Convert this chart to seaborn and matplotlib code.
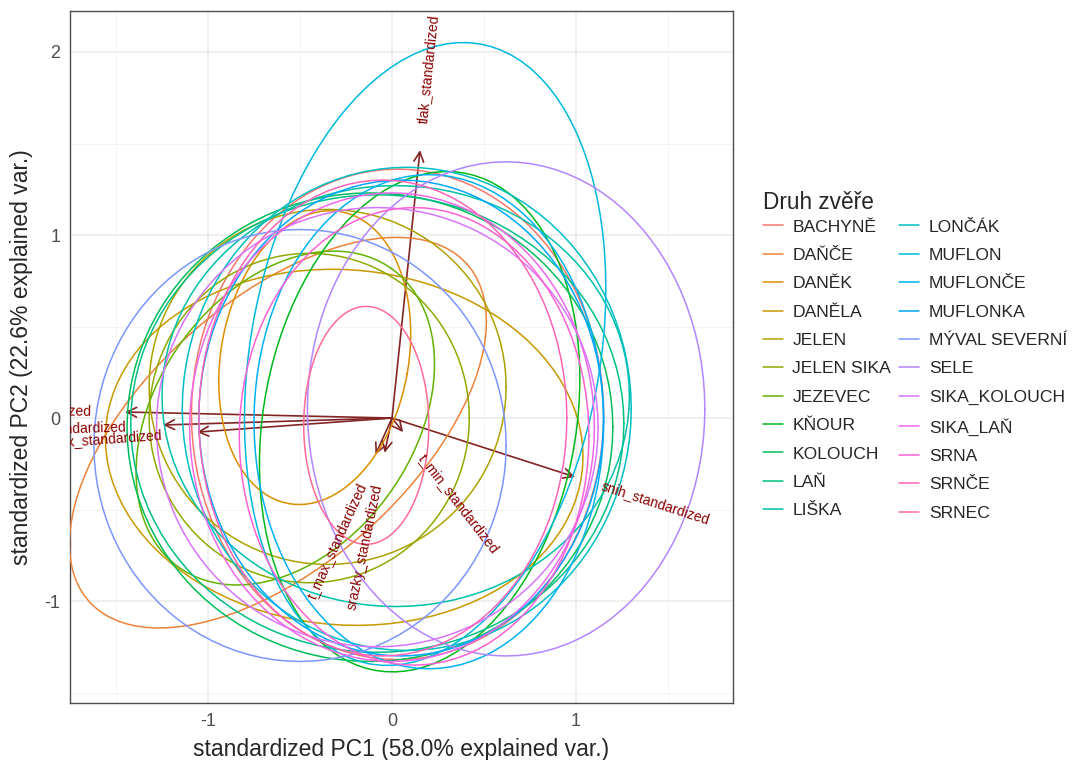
import numpy as np
import pandas as pd
import seaborn as sns
import matplotlib.pyplot as plt
from matplotlib.font_manager import FontProperties

# skupiny (Druh zvěře)
skupiny = ['BACHYNĚ', 'DAŇČE', 'DANĚK', 'DANĚLA', 'JELEN', 'JELEN SIKA', 'JEZEVEC',
           'KŇOUR', 'KOLOUCH', 'LAŇ', 'LIŠKA', 'LONČÁK', 'MUFLON', 'MUFLONČE',
           'MUFLONKA', 'MÝVAL SEVERNÍ', 'SELE', 'SIKA_KOLOUCH', 'SIKA_LAŇ',
           'SRNA', 'SRNČE', 'SRNEC']

# elipsy: střed, poloosy, natočení (stupně)
ell_cx = [0.03, -0.62, -0.42, -0.26, -0.35, -0.45, -0.58, 0.15, -0.12, -0.08, 0.02,
          0.08, 0.18, 0.20, 0.05, -0.50, 0.62, -0.08, 0.00, 0.12, -0.05, -0.14]
ell_cy = [0.02, -0.08, 0.33, -0.16, 0.17, 0.00, 0.00, -0.02, -0.05, -0.03, 0.12,
          0.05, 0.35, -0.02, 0.00, -0.15, 0.05, -0.05, -0.05, -0.10, 0.00, -0.04]
ell_ra = [1.12, 1.38, 0.51, 1.30, 0.97, 0.87, 1.00, 0.85, 1.32, 1.34, 1.27,
          1.22, 0.95, 0.95, 1.10, 1.12, 1.08, 1.20, 1.10, 0.95, 1.00, 0.34]
ell_rb = [1.34, 0.72, 0.81, 0.97, 0.97, 0.90, 0.70, 1.38, 1.28, 1.25, 1.15,
          1.32, 1.72, 1.35, 1.30, 1.18, 1.35, 1.20, 1.28, 1.25, 1.30, 0.65]
ell_ang = [0, 42, -10, -5, 0, 0, 55, -10, 0, 0, 0,
           0, -10, 0, 0, 0, 0, 0, 0, 0, 0, 0]

# šipky proměnných
var_nazvy = ['tlak_standardized', 'snih_standardized', 't_min_standardized',
             't_max_standardized', 'srazky_standardized',
             'vlhkost_standardized', 'oblacnost_standardized', 'vitr_max_standardized']
var_x = [0.152, 0.995, 0.06, -0.09, -0.04, -1.451, -1.245, -1.06]
var_y = [1.464, -0.322, -0.077, -0.20, -0.19, 0.033, -0.038, -0.077]


def hcl_hex(h, c=100, l=65):
    # ggplot2 hue_pal -> hcl -> sRGB
    hr = np.radians(h)
    U, V = c * np.cos(hr), c * np.sin(hr)
    Xn, Yn, Zn = 95.047, 100.0, 108.883
    un = 4 * Xn / (Xn + 15 * Yn + 3 * Zn)
    vn = 9 * Yn / (Xn + 15 * Yn + 3 * Zn)
    Y = Yn * ((l + 16) / 116) ** 3
    u = U / (13 * l) + un
    v = V / (13 * l) + vn
    X = 9 * Y * u / (4 * v)
    Z = Y * (12 - 3 * u - 20 * v) / (4 * v)
    X, Y, Z = X / 100, Y / 100, Z / 100
    rgb = [3.2404542 * X - 1.5371385 * Y - 0.4985314 * Z,
           -0.9692660 * X + 1.8760108 * Y + 0.0415560 * Z,
           0.0556434 * X - 0.2040259 * Y + 1.0572252 * Z]
    out = []
    for ch in rgb:
        ch = 1.055 * ch ** (1 / 2.4) - 0.055 if ch > 0.0031308 else 12.92 * ch
        out.append(min(max(ch, 0), 1))
    return '#%02x%02x%02x' % tuple(int(round(x * 255)) for x in out)


n = len(skupiny)
paleta = [hcl_hex(15 + i * 360 / n) for i in range(n)]

# body elips
t = np.linspace(0, 2 * np.pi, 101)
radky = []
for g, cx, cy, ra, rb, an in zip(skupiny, ell_cx, ell_cy, ell_ra, ell_rb, ell_ang):
    f = np.radians(an)
    ex = cx + ra * np.cos(t) * np.cos(f) - rb * np.sin(t) * np.sin(f)
    ey = cy + ra * np.cos(t) * np.sin(f) + rb * np.sin(t) * np.cos(f)
    radky.append(pd.DataFrame({'PC1': ex, 'PC2': ey, 'druh': g}))
df_ell = pd.concat(radky, ignore_index=True)

sns.set_style('white')
plt.rcParams['font.family'] = ['Liberation Sans', 'DejaVu Sans']
plt.rcParams['axes.unicode_minus'] = False

W, H = 1083, 760
fig = plt.figure(figsize=(W / 100, H / 100), dpi=100)
ax = fig.add_axes([70 / W, 57 / H, 663 / W, 692 / H])

ax.set_xlim(-1.750, 1.853)
ax.set_ylim(-1.557, 2.224)

# mřížka
ax.set_xticks([-1, 0, 1])
ax.set_yticks([-1, 0, 1, 2])
ax.set_xticks([-1.5, -0.5, 0.5, 1.5], minor=True)
ax.set_yticks([-1.5, -0.5, 0.5, 1.5], minor=True)
ax.grid(True, which='major', color='#EBEBEB', linewidth=1.1, zorder=0)
ax.grid(True, which='minor', color='#F2F2F2', linewidth=0.6, zorder=0)
ax.set_axisbelow(True)

arrow_col = '#832424'
for vx, vy in zip(var_x, var_y):
    ax.annotate('', xy=(vx, vy), xytext=(0, 0),
                arrowprops=dict(arrowstyle='->,head_length=0.7,head_width=0.35',
                                color=arrow_col, lw=1.2, shrinkA=0, shrinkB=0),
                zorder=2)

sns.lineplot(data=df_ell, x='PC1', y='PC2', hue='druh', hue_order=skupiny,
             palette=paleta, sort=False, estimator=None, units='druh',
             linewidth=1.1, ax=ax, zorder=3)

# popisky šipek (oříznuté panelem jako v ggplotu)
renderer = fig.canvas.get_renderer()
fp = FontProperties(family=['Liberation Sans'], size=10)
for name, vx, vy in zip(var_nazvy, var_x, var_y):
    ang = np.degrees(np.arctan(vy / vx))
    w, _, _ = renderer.get_text_width_height_descent(name, fp, ismath=False)
    s = np.sign(vx)
    dx = s * 0.25 * w * np.cos(np.radians(ang))
    dy = s * 0.25 * w * np.sin(np.radians(ang))
    txt = ax.annotate(name, xy=(vx, vy), xytext=(dx, dy), textcoords='offset pixels',
                      rotation=ang, rotation_mode='anchor',
                      ha='left' if vx > 0 else 'right', va='center',
                      color='darkred', fontproperties=fp, annotation_clip=False,
                      zorder=4)
    txt.set_clip_on(True)
    txt.set_clip_box(ax.bbox)

for sp in ax.spines.values():
    sp.set_color('#4D4D4D')
    sp.set_linewidth(1.0)
ax.tick_params(axis='both', which='major', direction='out', length=4, width=1,
               color='#4D4D4D', labelcolor='#4D4D4D', labelsize=13, pad=3)
ax.tick_params(axis='both', which='minor', length=0)
ax.set_xticklabels(['-1', '0', '1'])
ax.set_yticklabels(['-1', '0', '1', '2'])

ax.set_xlabel('standardized PC1 (58.0% explained var.)', fontsize=16.5, labelpad=6)
ax.set_ylabel('standardized PC2 (22.6% explained var.)', fontsize=16.5, labelpad=8)

handles, labels = ax.get_legend_handles_labels()
ax.get_legend().remove()
leg = fig.legend(handles, labels, ncol=2, loc='upper left',
                 bbox_to_anchor=(754 / W, 1 - 182 / H), frameon=False,
                 title='Druh zvěře', title_fontsize=16.3, fontsize=12.6,
                 handlelength=1.15, handletextpad=0.55, columnspacing=0.45,
                 labelspacing=0.75, borderpad=0)
leg._legend_box.align = 'left'
leg._legend_box.sep = 4

fig.savefig('out.png', dpi=100)
